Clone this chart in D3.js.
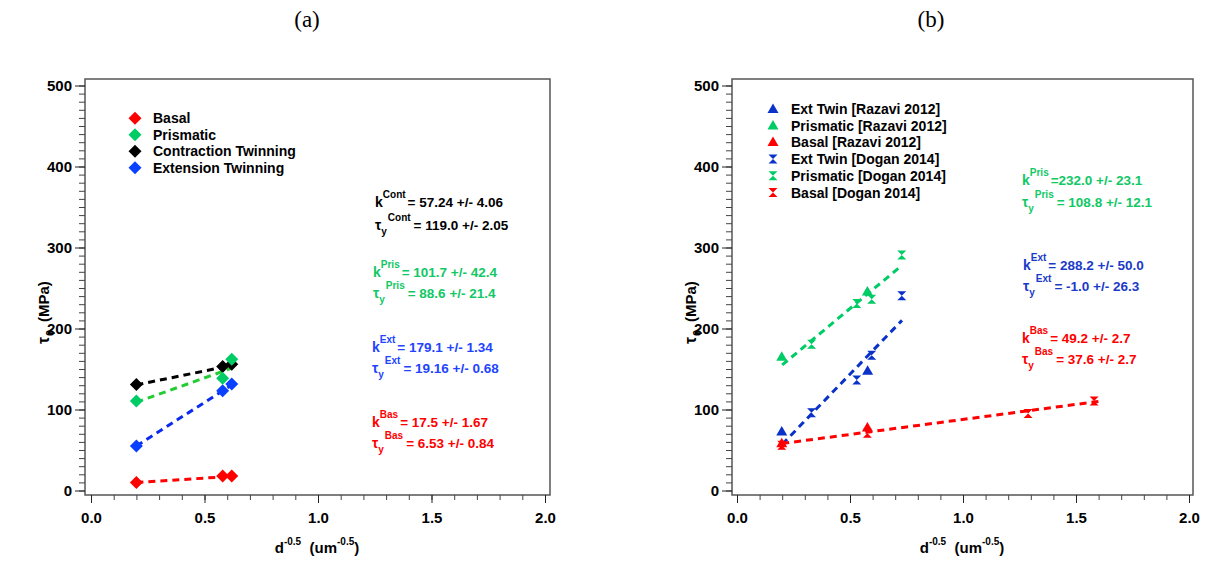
<!DOCTYPE html>
<html>
<head>
<meta charset="utf-8">
<script src="https://cdn.jsdelivr.net/npm/d3@7"></script>
<style>
  html, body { margin: 0; padding: 0; background: #fff; }
  svg { display: block; }
  text { font-family: "Liberation Sans", Arial, sans-serif; font-weight: bold; }
</style>
</head>
<body>
<svg id="chart" width="1206" height="562"></svg>
<script>
// ---------- shared ticks ----------
const xTicks = [0, 0.5, 1.0, 1.5, 2.0];
const xMinorTicks = d3.range(0, 2.01, 0.1);
const yTicks = [0, 100, 200, 300, 400, 500];
const yMinorTicks = d3.range(0, 501, 10);

// ---------- panel (a) data ----------
const aX = [0.2, 0.58, 0.62];
const aBasalY = [10, 18, 18];
const aPrismaticY = [110.5, 138.5, 162];
const aContractionY = [131, 153, 156];
const aExtensionY = [55, 123, 131.5];
const aLegend = ["Basal", "Prismatic", "Contraction Twinning", "Extension Twinning"];
// fit line endpoints [x0, y0, x1, y1]
const aFitBasal = [0.2, 10, 0.63, 17.6];
const aFitPrismatic = [0.2, 109, 0.62, 151];
const aFitContraction = [0.2, 130.4, 0.63, 155];
const aFitExtension = [0.2, 55, 0.63, 132];
const aAnnotSup = ["Cont", "Pris", "Ext", "Bas"];
const aAnnotK = ["= 57.24 +/- 4.06", "= 101.7 +/- 42.4", "= 179.1 +/- 1.34", "= 17.5 +/- 1.67"];
const aAnnotT = ["= 119.0 +/- 2.05", "= 88.6 +/- 21.4", "= 19.16 +/- 0.68", "= 6.53 +/- 0.84"];

// ---------- panel (b) data ----------
const razaviExtX = [0.198, 0.578], razaviExtY = [72.6, 147.5];
const razaviPrisX = [0.198, 0.577], razaviPrisY = [165, 245.5];
const razaviBasX = [0.198, 0.577], razaviBasY = [58, 77.5];
const doganExtX = [0.33, 0.53, 0.596, 0.729], doganExtY = [96, 136.4, 167, 240.5];
const doganPrisX = [0.33, 0.53, 0.596, 0.729], doganPrisY = [180.5, 231, 236, 290.7];
const doganBasX = [0.198, 0.577, 1.288, 1.58], doganBasY = [56, 70.6, 95, 110.5];
const bLegend = ["Ext Twin [Razavi 2012]", "Prismatic [Razavi 2012]", "Basal [Razavi 2012]",
                 "Ext Twin [Dogan 2014]", "Prismatic [Dogan 2014]", "Basal [Dogan 2014]"];
const bFitPris = [0.2, 155, 0.73, 278];
const bFitExt = [0.2, 57, 0.73, 210];
const bFitBas = [0.2, 58, 1.6, 110];
const bAnnotSup = ["Pris", "Ext", "Bas"];
const bAnnotK = ["=232.0 +/- 23.1", "= 288.2 +/- 50.0", "= 49.2 +/- 2.7"];
const bAnnotT = ["= 108.8 +/- 12.1", "= -1.0 +/- 26.3", "= 37.6 +/- 2.7"];

// ---------- colours ----------
const RED = "#ff0000", GREEN = "#00cc66", GREEN_LINE = "#22cc33", BLACK = "#000000";
const BLUE_A = "#0a40ff", BLUE_A_LINE = "#0a2af0", BLUE_A_TEXT = "#2244ff";
const BLUE_B = "#0a32c8", BLUE_B_TEXT = "#1a3ac8", GREEN_TEXT = "#11c866";

const svg = d3.select("#chart");

// titles
svg.append("text").attr("x", 307).attr("y", 27).attr("text-anchor", "middle")
  .style("font-family", "'Liberation Serif', 'Times New Roman', serif").style("font-weight", "normal")
  .style("font-size", "23px").text("(a)");
svg.append("text").attr("x", 931).attr("y", 27).attr("text-anchor", "middle")
  .style("font-family", "'Liberation Serif', 'Times New Roman', serif").style("font-weight", "normal")
  .style("font-size", "23px").text("(b)");

function makePanel(cfg) {
  const g = svg.append("g");
  const x = d3.scaleLinear().domain([0, 2]).range([cfg.x0, cfg.x2]);
  const y = d3.scaleLinear().domain([0, 500]).range([490.5, 85.5]);
  // frame
  g.append("rect").attr("x", cfg.left).attr("y", 79).attr("width", cfg.right - cfg.left).attr("height", 495 - 79)
    .attr("fill", "none").attr("stroke", "#555").attr("stroke-width", 1.5);
  // x axis
  const xMinor = g.append("g").attr("transform", "translate(0,495)")
    .call(d3.axisBottom(x).tickValues(xMinorTicks).tickSize(5).tickFormat(""));
  xMinor.select(".domain").remove();
  xMinor.selectAll("line").attr("stroke", "#444");
  const xMaj = g.append("g").attr("transform", "translate(0,495)")
    .call(d3.axisBottom(x).tickValues(xTicks).tickSize(8).tickPadding(9).tickFormat(d3.format(".1f")));
  xMaj.select(".domain").remove();
  xMaj.selectAll("line").attr("stroke", "#222");
  xMaj.selectAll("text").style("font-size", "15px").style("font-family", "'Liberation Sans', Arial, sans-serif")
    .style("font-weight", "bold").attr("fill", "#000");
  // y axis
  const yMinor = g.append("g").attr("transform", `translate(${cfg.left},0)`)
    .call(d3.axisLeft(y).tickValues(yMinorTicks).tickSize(6).tickFormat(""));
  yMinor.select(".domain").remove();
  yMinor.selectAll("line").attr("stroke", "#444");
  const yMaj = g.append("g").attr("transform", `translate(${cfg.left},0)`)
    .call(d3.axisLeft(y).tickValues(yTicks).tickSize(10).tickPadding(3).tickFormat(d3.format("d")));
  yMaj.select(".domain").remove();
  yMaj.selectAll("line").attr("stroke", "#222");
  yMaj.selectAll("text").style("font-size", "15px").style("font-family", "'Liberation Sans', Arial, sans-serif")
    .style("font-weight", "bold").attr("fill", "#000");
  // y axis label: rotated group with separately placed pieces
  const yl = g.append("g").attr("transform", `translate(${cfg.left - 36},344) rotate(-90)`);
  yl.append("text").attr("x", 0).attr("y", 0).style("font-size", "16px").text("τ");
  yl.append("text").attr("x", 8).attr("y", 5).style("font-size", "11px").text("0");
  yl.append("text").attr("x", 22).attr("y", 0).style("font-size", "15px").text("(MPa)");
  // x axis label
  const xl = g.append("text").attr("x", cfg.xlab).attr("y", 553).attr("text-anchor", "middle")
    .attr("xml:space", "preserve").style("font-size", "15px");
  xl.append("tspan").text("d");
  xl.append("tspan").attr("dy", -8).style("font-size", "10px").text("-0.5");
  xl.append("tspan").attr("dy", 8).text("  (um");
  xl.append("tspan").attr("dy", -8).style("font-size", "10px").text("-0.5");
  xl.append("tspan").attr("dy", 8).text(")");
  return { g, x, y };
}

function dashLine(p, pts, color) {
  p.g.append("line")
    .attr("x1", p.x(pts[0])).attr("y1", p.y(pts[1]))
    .attr("x2", p.x(pts[2])).attr("y2", p.y(pts[3]))
    .attr("stroke", color).attr("stroke-width", 3).attr("stroke-dasharray", "7,5");
}

const diamond = (s) => `M0,${-s}L${s},0L0,${s}L${-s},0Z`;
const triangle = (w, h) => `M0,${-h * 0.6}L${w / 2},${h * 0.4}L${-w / 2},${h * 0.4}Z`;
const hourglass = (w, h) => `M${-w / 2},${-h / 2}L${w / 2},${-h / 2}L0,0Z M${-w / 2},${h / 2}L${w / 2},${h / 2}L0,0Z`;

function markers(p, xs, ys, path, color) {
  p.g.selectAll(null).data(xs.map((d, i) => [d, ys[i]])).enter().append("path")
    .attr("d", path).attr("transform", d => `translate(${p.x(d[0])},${p.y(d[1])})`)
    .attr("fill", color);
}

function annot(g, x, yk, yt, sup, kTxt, tTxt, color) {
  const t1 = g.append("text").attr("x", x).attr("y", yk).attr("fill", color).style("font-size", "14px")
    .attr("xml:space", "preserve");
  t1.append("tspan").text("k");
  t1.append("tspan").attr("dy", -9).style("font-size", "10px").text(sup);
  t1.append("tspan").attr("dy", 9).attr("dx", 2).style("font-size", "13.5px").text(kTxt);
  const t2 = g.append("text").attr("x", x).attr("y", yt).attr("fill", color).style("font-size", "14px")
    .attr("xml:space", "preserve");
  t2.append("tspan").text("τ");
  t2.append("tspan").attr("dy", 5).style("font-size", "10px").text("y");
  t2.append("tspan").attr("dy", -14).attr("dx", 1).style("font-size", "10px").text(sup);
  t2.append("tspan").attr("dy", 9).attr("dx", 3).style("font-size", "13.5px").text(tTxt);
}

// ---------- panel (a) ----------
const pa = makePanel({ left: 85, right: 550, x0: 91, x2: 545, xlab: 317 });
dashLine(pa, aFitContraction, BLACK);
dashLine(pa, aFitPrismatic, GREEN_LINE);
dashLine(pa, aFitExtension, BLUE_A_LINE);
dashLine(pa, aFitBasal, RED);
markers(pa, aX, aBasalY, diamond(6.5), RED);
markers(pa, aX, aContractionY, diamond(6.5), BLACK);
markers(pa, aX, aPrismaticY, diamond(6.5), GREEN);
markers(pa, aX, aExtensionY, diamond(6.5), BLUE_A);

const aLegColors = [RED, GREEN, BLACK, BLUE_A];
const aLegY = [118.3, 134.8, 151.3, 167.8];
aLegend.forEach((name, i) => {
  pa.g.append("path").attr("d", diamond(6.5)).attr("transform", `translate(135,${aLegY[i]})`).attr("fill", aLegColors[i]);
  pa.g.append("text").attr("x", 153).attr("y", aLegY[i] + 5).style("font-size", "14px").text(name);
});
const aAnnColors = [BLACK, GREEN_TEXT, BLUE_A_TEXT, RED];
const aAnnX = [375, 373, 372, 372];
const aAnnYk = [207, 277, 352, 427];
const aAnnYt = [230, 298, 373, 448];
aAnnotSup.forEach((s, i) => annot(pa.g, aAnnX[i], aAnnYk[i], aAnnYt[i], s, aAnnotK[i], aAnnotT[i], aAnnColors[i]));

// ---------- panel (b) ----------
const pb = makePanel({ left: 732, right: 1193, x0: 737, x2: 1189, xlab: 962 });
dashLine(pb, bFitPris, GREEN);
dashLine(pb, bFitExt, BLUE_B);
dashLine(pb, bFitBas, RED);
const TRI = triangle(11, 9.5), HG = hourglass(9, 9);
markers(pb, razaviExtX, razaviExtY, TRI, BLUE_B);
markers(pb, razaviPrisX, razaviPrisY, TRI, GREEN);
markers(pb, razaviBasX, razaviBasY, TRI, RED);
markers(pb, doganExtX, doganExtY, HG, BLUE_B);
markers(pb, doganPrisX, doganPrisY, HG, GREEN);
markers(pb, doganBasX, doganBasY, HG, RED);

const bLegColors = [BLUE_B, GREEN, RED, BLUE_B, GREEN, RED];
const bLegShapes = [TRI, TRI, TRI, HG, HG, HG];
const bLegY = [109.3, 125.8, 142.3, 159, 175.8, 192.5];
bLegend.forEach((name, i) => {
  pb.g.append("path").attr("d", bLegShapes[i]).attr("transform", `translate(773,${bLegY[i]})`).attr("fill", bLegColors[i]);
  pb.g.append("text").attr("x", 791).attr("y", bLegY[i] + 5).style("font-size", "14px").text(name);
});
const bAnnColors = [GREEN_TEXT, BLUE_B_TEXT, RED];
const bAnnX = [1022, 1023, 1022];
const bAnnYk = [185, 270, 343];
const bAnnYt = [207, 291, 364];
bAnnotSup.forEach((s, i) => annot(pb.g, bAnnX[i], bAnnYk[i], bAnnYt[i], s, bAnnotK[i], bAnnotT[i], bAnnColors[i]));
</script>
</body>
</html>
